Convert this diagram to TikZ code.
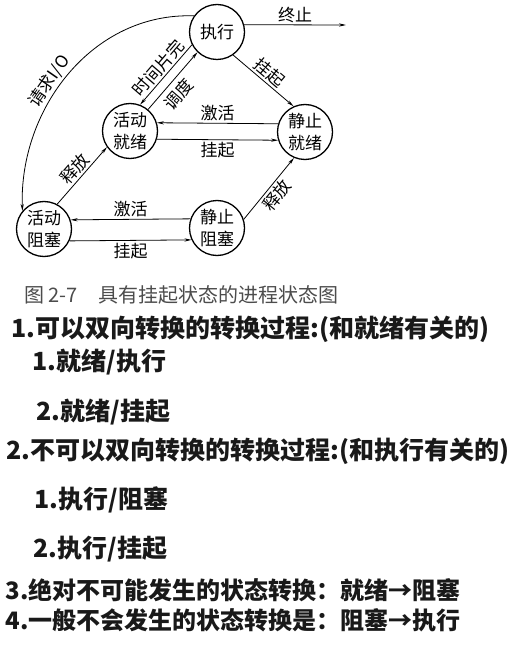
\documentclass[tikz,border=0pt]{standalone}
\usepackage{fontspec}
\usepackage{xcolor}
\usepackage{tikz}
\usetikzlibrary{arrows.meta}
\usetikzlibrary{positioning}
\newfontfamily\cjk{Noto Sans CJK SC}

\begin{document}
\begin{tikzpicture}[x=1pt,y=-1pt,line width=0.8pt,>={Stealth[length=7pt,width=3.2pt]}]
	\tikzstyle{state}=[draw,circle,line width=1.3pt,minimum size=55pt,inner sep=0pt,align=center,font=\cjk\fontsize{17}{22}\selectfont]
	\tikzstyle{lab}=[font=\cjk\fontsize{17}{19}\selectfont,inner sep=2pt]
	\tikzstyle{item}=[anchor=west,inner sep=0pt,font=\cjk\bfseries\fontsize{25}{28}\selectfont,text=black!90]
	\useasboundingbox (0,0) rectangle (516,652);
	\fill[white] (0,0) rectangle (516,652);

			% states
			\node[state] (run) at (217,32) {执行};
			\node[state] (ar)  at (130,131) {活动\\就绪};
			\node[state] (sr)  at (305,132) {静止\\就绪};
			\node[state] (ab)  at (44,229) {活动\\阻塞};
			\node[state] (sb)  at (217,228) {静止\\阻塞};
			\coordinate (out) at (346,25);

			% transitions
			\draw[->] (run.15) -- node[lab,above] {终止} (out);
			\draw[->] (run.-55) -- node[lab,sloped,above] {挂起} (sr.114);
			\draw[->] (run.207) -- node[lab,sloped,above] {时间片完} (ar.69);
			\draw[->] (ar.50) -- node[lab,sloped,below=3pt,pos=0.42] {调度} (run.226);
			\draw[->] (sr.163) -- node[lab,above] {激活} (ar.17);
			\draw[->] (ar.-17) -- node[lab,below] {挂起} (sr.197);
			\draw[->] (ab.62) -- node[lab,sloped,above] {释放} (ar.215);
			\draw[->] (sb.18) -- node[lab,sloped,below] {释放} (sr.247);
			\draw[->] (sb.161) -- node[lab,above] {激活} (ab.19);
			\draw[->] (ab.-25) -- node[lab,below] {挂起} (sb.205);
			\draw[->] (run.145) to[out=178,in=92] node[lab,sloped,above,pos=0.56] {请求I/O} (ab.140);

			% caption and notes
			\node[anchor=west,inner sep=0pt,font=\cjk\fontsize{20}{22}\selectfont,text=black!70] (cap) at (24,295) {图 2-7\hspace{1em}具有挂起状态的进程状态图};
			\node[item] (n1) at (11,329) {1.可以双向转换的转换过程:(和就绪有关的)};
			\node[item] (n11) at (32,362) {1.就绪/执行};
			\node[item] (n12) at (36,412) {2.就绪/挂起};
			\node[item] (n2) at (6,451) {2.不可以双向转换的转换过程:(和执行有关的)};
			\node[item] (n21) at (34,500) {1.执行/阻塞};
			\node[item] (n22) at (33,549) {2.执行/挂起};
			\node[item,font=\cjk\bfseries\fontsize{24}{26}\selectfont] (n3) at (5,590) {3.绝对不可能发生的状态转换：就绪→阻塞};
			\node[item,font=\cjk\bfseries\fontsize{24}{26}\selectfont] (n4) at (5,620) {4.一般不会发生的状态转换是：阻塞→执行};
\end{tikzpicture}
\end{document}
